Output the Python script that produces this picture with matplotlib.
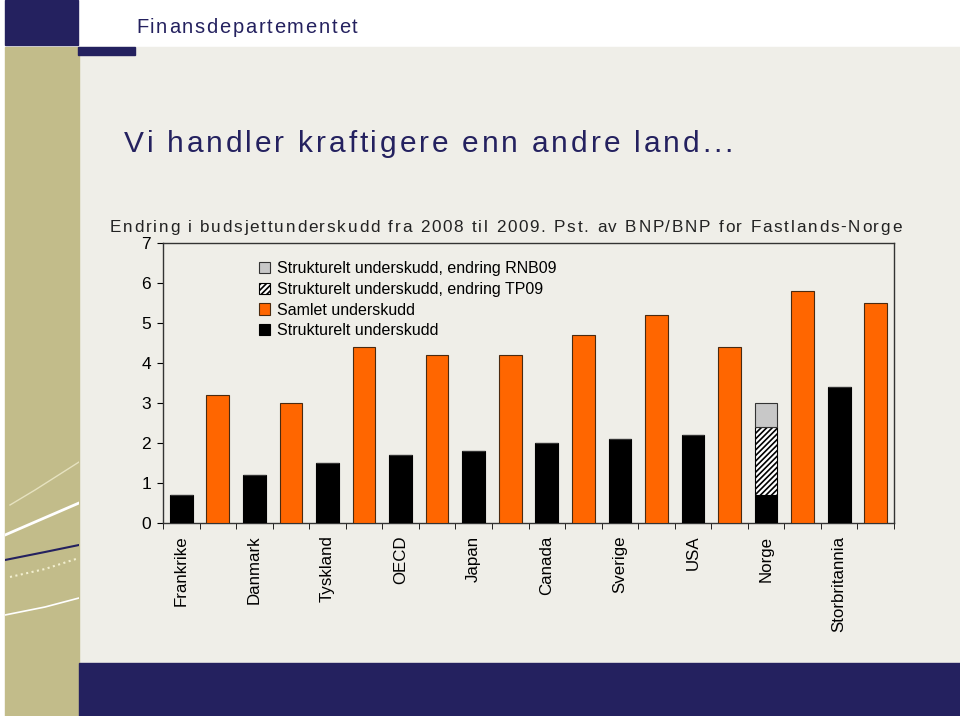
import matplotlib.pyplot as plt
import matplotlib.patches as mpatches
from matplotlib.text import Annotation
import numpy as np

countries = ["Frankrike", "Danmark", "Tyskland", "OECD", "Japan",
             "Canada", "Sverige", "USA", "Norge", "Storbritannia"]
strukturelt = [0.7, 1.2, 1.5, 1.7, 1.8, 2.0, 2.1, 2.2, 0.7, 3.4]
endring_tp09 = [0, 0, 0, 0, 0, 0, 0, 0, 1.7, 0]
endring_rnb09 = [0, 0, 0, 0, 0, 0, 0, 0, 0.6, 0]
samlet = [3.2, 3.0, 4.4, 4.2, 4.2, 4.7, 5.2, 4.4, 5.8, 5.5]

navy = "#24215F"
khaki = "#C2BC8A"
beige = "#EFEEE8"
orange = "#FF6600"
grey = "#C8C8C8"

plt.rcParams["font.family"] = ["Liberation Sans", "DejaVu Sans"]
plt.rcParams["hatch.linewidth"] = 1.2

fig = plt.figure(figsize=(9.6, 7.16), dpi=100)
fig.patch.set_facecolor("white")

# slide background pieces
W, H = 960, 716
def rect(x0, y0, x1, y1, color):
    fig.patches.append(mpatches.Rectangle((x0 / W, 1 - y1 / H), (x1 - x0) / W, (y1 - y0) / H,
                                          transform=fig.transFigure, color=color, zorder=-5))
rect(79, 47, 960, 662, beige)
rect(5, 47, 79, 716, khaki)
rect(5, 0, 78, 45, navy)
rect(78, 47, 135, 55, navy)
rect(79, 663, 960, 716, navy)

# decorative lines on the left strip
deco = fig.add_axes([5 / W, 0, 74 / W, 1], facecolor="none")
deco.set_xlim(0, 74)
deco.set_ylim(716, 0)
deco.axis("off")
deco.plot([5, 30, 74], [505, 490, 462], color="#E6E2C0", lw=1)
deco.plot([0, 30, 74], [535, 522, 503], color="white", lw=2)
deco.plot([0, 40, 74], [560, 552, 545], color=navy, lw=1.5)
deco.plot([5, 40, 74], [577, 569, 558], color="#F2EFD0", lw=1.5, ls=":")
deco.plot([0, 40, 74], [615, 607, 598], color="white", lw=1.2)


def tracked(x, y, s, size, color, track):
    # letter-spaced text, each char chained to the previous one
    prev = fig.text(x / W, 1 - y / H, s[0], fontsize=size, color=color, va="bottom")
    for ch in s[1:]:
        prev = fig.add_artist(Annotation(
            ch, xy=(1, 0), xycoords=prev, xytext=(track, 0), textcoords="offset pixels",
            fontsize=size, color=color, va="bottom", ha="left"))


tracked(136, 37, "Finansdepartementet", 14.5, navy, 1.7)
tracked(124, 158, "Vi handler kraftigere enn andre land...", 21.5, navy, 2.85)
tracked(110, 235, "Endring i budsjettunderskudd fra 2008 til 2009. Pst. av BNP/BNP for Fastlands-Norge",
        12.3, "#222222", 1.75)

ax = fig.add_axes([163 / W, 1 - 523 / H, (894 - 163) / W, (523 - 243) / H])
ax.set_facecolor(beige)

n = len(countries)
xb = np.arange(n) * 2
xo = xb + 1
w = 0.62
base2 = np.array(strukturelt)
base3 = base2 + np.array(endring_tp09)

ax.bar(xb, strukturelt, w, color="black", edgecolor="black", linewidth=0.8,
       label="Strukturelt underskudd", zorder=3)
ax.bar(xb, endring_tp09, w, bottom=base2, color="white", edgecolor="black", hatch="//////",
       linewidth=0.8, label="Strukturelt underskudd, endring TP09", zorder=3)
ax.bar(xb, endring_rnb09, w, bottom=base3, color=grey, edgecolor="#333333", linewidth=0.8,
       label="Strukturelt underskudd, endring RNB09", zorder=3)
ax.bar(xo, samlet, w, color=orange, edgecolor="#4a2a10", linewidth=0.8,
       label="Samlet underskudd", zorder=3)

ax.set_xlim(-0.5, 2 * n - 0.5)
ax.set_ylim(0, 7)
ax.set_yticks(range(8))
ax.tick_params(axis="y", labelsize=12.5, length=4.5, direction="out", pad=4)
ax.set_xticks(xb)
ax.set_xticklabels(countries, rotation=90, fontsize=12.2, va="top")
ax.tick_params(axis="x", length=0, pad=9)
ax.set_xticks(np.arange(-0.5, 2 * n), minor=True)
ax.tick_params(axis="x", which="minor", length=4.5, direction="out")
for s in ax.spines.values():
    s.set_color("#333333")
    s.set_linewidth(1)

h, l = ax.get_legend_handles_labels()
order = [2, 1, 3, 0]
leg = ax.legend([h[i] for i in order], [l[i] for i in order], loc="upper left",
                bbox_to_anchor=(0.114, 0.98), frameon=False, fontsize=11.5,
                handlelength=0.7, handleheight=0.7, handletextpad=0.4, labelspacing=0.35,
                borderpad=0.3)

fig.savefig("out.png", dpi=100)
